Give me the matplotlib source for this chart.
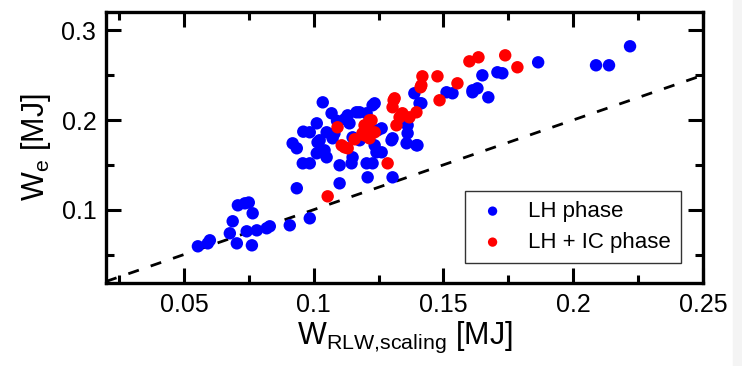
import matplotlib
matplotlib.use('Agg')
import matplotlib.pyplot as plt
from matplotlib.ticker import MultipleLocator
from matplotlib.patches import Rectangle

plt.rcParams['font.family'] = ['Liberation Sans', 'DejaVu Sans']
plt.rcParams['mathtext.fontset'] = 'custom'
plt.rcParams['mathtext.rm'] = 'Liberation Sans'
plt.rcParams['mathtext.it'] = 'Liberation Sans:italic'

# LH phase points (W_RLW,scaling, W_e) in MJ
lh_x = [0.0554, 0.0592, 0.0600, 0.0677, 0.0688, 0.0708, 0.0735, 0.0750, 0.0765,
        0.0704, 0.0762, 0.0742, 0.0781, 0.0819, 0.0831, 0.0908, 0.0985, 0.0935,
        0.0958, 0.0985, 0.1100,
        0.1035, 0.1069, 0.1131, 0.1012, 0.0985, 0.1050, 0.0919, 0.0935, 0.1023,
        0.1138, 0.1015, 0.1050, 0.1042, 0.1012, 0.1100, 0.1146, 0.1208, 0.1177,
        0.1227, 0.1242, 0.1073, 0.1388, 0.1512, 0.1535, 0.1612, 0.1415, 0.1235,
        0.1204, 0.1246, 0.1362, 0.1362, 0.1400, 0.1304, 0.1262, 0.1235, 0.1204,
        0.1304, 0.1177, 0.1408, 0.1165, 0.1262, 0.1300, 0.1150, 0.1227, 0.1150,
        0.1396, 0.1358, 0.1090, 0.1120, 0.0960, 0.1080,
        0.1650, 0.1708, 0.1727, 0.1612, 0.1631, 0.1673, 0.1865, 0.2088, 0.2138,
        0.2219]
lh_y = [0.0592, 0.0625, 0.0659, 0.0737, 0.0871, 0.1049, 0.1071, 0.1080, 0.0960,
        0.0625, 0.0603, 0.0759, 0.0770, 0.0793, 0.0815, 0.0826, 0.0904, 0.1239,
        0.1517, 0.1517, 0.1294,
        0.2197, 0.2075, 0.2052, 0.1963, 0.1863, 0.1863, 0.1740, 0.1685, 0.1774,
        0.1963, 0.1751, 0.1584, 0.1662, 0.1629, 0.1495, 0.1517, 0.1361, 0.2086,
        0.2164, 0.1640, 0.1796, 0.2298, 0.2309, 0.2298, 0.2309, 0.2186, 0.2186,
        0.2075, 0.1885, 0.1941, 0.1852, 0.1718, 0.1796, 0.1640, 0.1718, 0.1517,
        0.1361, 0.1774, 0.2186, 0.2086, 0.1907, 0.1774, 0.1807, 0.1517, 0.1584,
        0.1718, 0.1740, 0.1990, 0.2010, 0.1870, 0.1850,
        0.2498, 0.2532, 0.2521, 0.2331, 0.2353, 0.2253, 0.2643, 0.2610, 0.2610,
        0.2822]

# LH + IC phase points
ic_x = [0.1054, 0.1092, 0.1108, 0.1158, 0.1131, 0.1196, 0.1215, 0.1215, 0.1223,
        0.1208, 0.1188, 0.1235, 0.1119, 0.1196, 0.1312, 0.1304, 0.1369, 0.1396,
        0.1331, 0.1342, 0.1319, 0.1285, 0.1415, 0.1419, 0.1477, 0.1485, 0.1554,
        0.1600, 0.1635, 0.1738, 0.1785, 0.1412, 0.1308]
ic_y = [0.1149, 0.1919, 0.1718, 0.1785, 0.1685, 0.1941, 0.1997, 0.1796, 0.1997,
        0.1907, 0.1852, 0.1863, 0.1696, 0.1829, 0.2242, 0.2142, 0.2030, 0.2086,
        0.2030, 0.2075, 0.1941, 0.1517, 0.2387, 0.2487, 0.2487, 0.2220, 0.2409,
        0.2654, 0.2699, 0.2721, 0.2588, 0.2365, 0.2220]

# reference line W_e = W_RLW,scaling
line_x = [0.02, 0.25]

fig = plt.figure(figsize=(7.42, 3.66), dpi=100)
fig.patches.append(Rectangle((733 / 742, 0), 1 - 733 / 742, 1, transform=fig.transFigure,
                             color='#f4f4f4', zorder=-10))
ax = fig.add_axes([0.1429, 0.2268, 0.8045, 0.7404])

ax.plot(line_x, line_x, color='black', lw=2, dashes=(4, 4.5), zorder=1)
ax.scatter(lh_x, lh_y, s=80, color='#0000ff', edgecolors='none', label='LH phase', zorder=2)
ax.scatter(ic_x, ic_y, s=80, color='#ff0000', edgecolors='none', label='LH + IC phase', zorder=3)

ax.set_xlim(0.02, 0.25)
ax.set_ylim(0.0183, 0.3204)
ax.set_xticks([0.05, 0.1, 0.15, 0.2, 0.25])
ax.set_xticklabels(['0.05', '0.1', '0.15', '0.2', '0.25'])
ax.set_yticks([0.1, 0.2, 0.3])
ax.set_yticklabels(['0.1', '0.2', '0.3'])
ax.xaxis.set_minor_locator(MultipleLocator(0.025))
ax.yaxis.set_minor_locator(MultipleLocator(0.05))
ax.tick_params(which='both', direction='in', top=True, right=True, width=2.2,
               labelsize=18, pad=7)
ax.tick_params(which='major', length=11)
ax.tick_params(which='minor', length=5.5)
for s in ax.spines.values():
    s.set_linewidth(2.4)

ax.set_xlabel(r'W$_{\mathrm{RLW{,}scaling}}$ [MJ]', fontsize=22, labelpad=2)
ax.set_ylabel(r'W$_{\mathrm{e}}$ [MJ]', fontsize=22, labelpad=6)

leg = ax.legend(loc='lower right', bbox_to_anchor=(0.963, 0.074), borderaxespad=0,
                fontsize=16, frameon=True, fancybox=False, handletextpad=0.8,
                markerscale=0.75, borderpad=0.45, labelspacing=0.45, handlelength=1.6)
leg.get_frame().set_edgecolor('black')
leg.get_frame().set_linewidth(1.0)

fig.savefig('out.png', dpi=100)
